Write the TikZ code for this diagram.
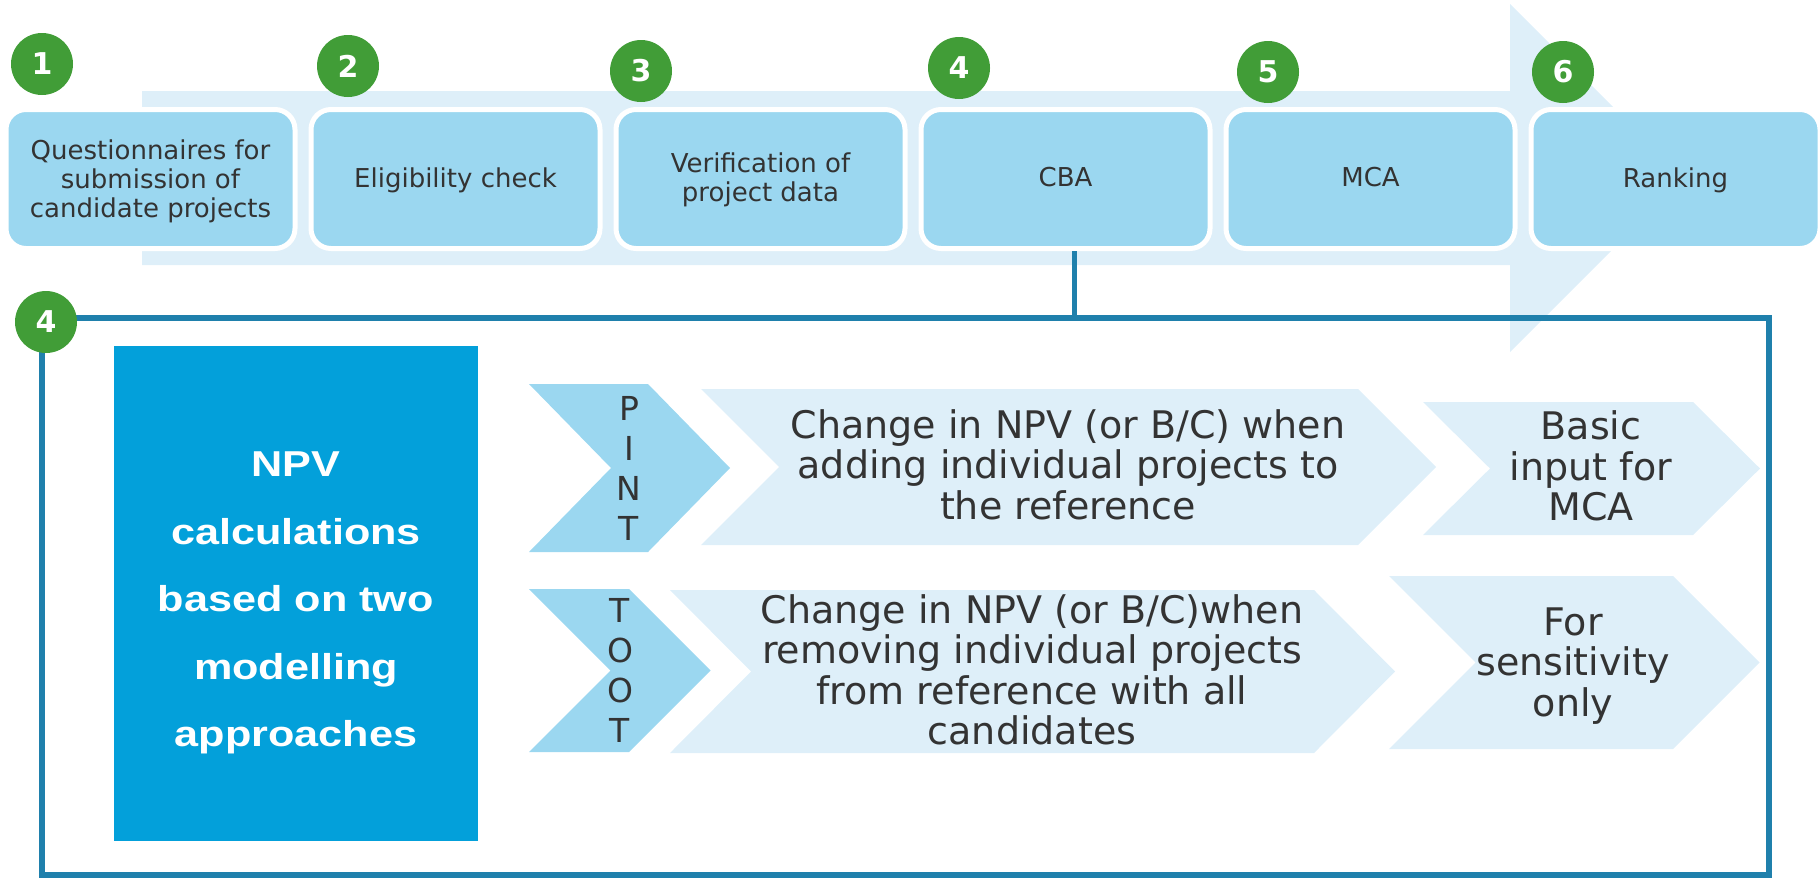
\documentclass[tikz,border=0pt]{standalone}
\usepackage{fontspec}
\setmainfont{DejaVu Sans}
\newfontfamily\npvfont{Liberation Sans}[FakeStretch=1.2]

\definecolor{bandblue}{RGB}{222,239,249}
\definecolor{boxblue}{RGB}{155,215,240}
\definecolor{stepgreen}{RGB}{65,157,55}
\definecolor{frameblue}{RGB}{31,128,172}
\definecolor{npvblue}{RGB}{3,160,218}
\definecolor{txtgray}{RGB}{51,51,51}

\tikzset{
  stepbox/.style={rounded corners=20pt, fill=boxblue, draw=white, line width=5pt,
    minimum width=289pt, minimum height=139pt, inner sep=0pt},
  steplabel/.style={align=center, text=txtgray, inner sep=0pt,
    font=\fontsize{26}{29}\selectfont},
  badge/.style={circle, fill=stepgreen, minimum size=62pt, inner sep=0pt,
    text=white, font=\bfseries\fontsize{30}{30}\selectfont},
  chevlight/.style={fill=bandblue},
  chevdark/.style={fill=boxblue},
  chevtext/.style={align=center, text=txtgray, inner sep=0pt,
    font=\fontsize{38}{40.5}\selectfont},
  lettertext/.style={align=center, text=txtgray, inner sep=0pt,
    font=\fontsize{33}{40}\selectfont},
  framerule/.style={draw=frameblue, line width=5.5pt},
}

\begin{document}
\begin{tikzpicture}[x=1pt, y=-1pt]
  \useasboundingbox (0,0) rectangle (1819,878);

  % wide process arrow behind the steps
  \fill[bandblue] (142,91) -- (1510,91) -- (1510,4) -- (1684,178)
                  -- (1510,352) -- (1510,265) -- (142,265) -- cycle;

  % process steps
  \node[stepbox] (b1) at (150.5,179) {};
  \node[stepbox] (b2) at (455.5,179) {};
  \node[stepbox] (b3) at (760.5,179) {};
  \node[stepbox] (b4) at (1065.5,179) {};
  \node[stepbox] (b5) at (1370.5,179) {};
  \node[stepbox] (b6) at (1675.5,179) {};
  \node[steplabel] (t1) at (150.5,181.5) {Questionnaires for\\submission of\\candidate projects};
  \node[steplabel] (t2) at (455.5,180.5) {Eligibility check};
  \node[steplabel] (t3) at (760.5,180) {Verification of\\project data};
  \node[steplabel] (t4) at (1065.5,177.5) {CBA};
  \node[steplabel] (t5) at (1370.5,177.5) {MCA};
  \node[steplabel] (t6) at (1675.5,180.5) {Ranking};

  % step numbers
  \node[badge] (n1) at (42,64) {1};
  \node[badge] (n2) at (348,66) {2};
  \node[badge] (n3) at (641,71) {3};
  \node[badge] (n4) at (959,68) {4};
  \node[badge] (n5) at (1268,72) {5};
  \node[badge] (n6) at (1563,72) {6};

  % detail frame for the CBA step
  \draw[framerule] (42,318) rectangle (1769,875);
  \coordinate (tap) at (1074,318);
  \draw[framerule, line width=5pt] (b4.south -| tap) -- (tap);
  \node[badge] (n4b) at (46,322) {4};

  % NPV block
  \node[fill=npvblue, minimum width=364pt, minimum height=495pt, inner sep=0pt]
    (npv) at (296,593.5) {};
  \node[align=center, text=white, inner sep=0pt,
        font=\npvfont\bfseries\fontsize{36}{67.5}\selectfont]
    (npvtxt) at (296,603) {NPV\\calculations\\based on two\\modelling\\approaches};

  % PINT row
  \fill[chevdark] (529,384) -- (648,384) -- (730,468) -- (648,552)
                  -- (529,552) -- (611,468) -- cycle;
  \fill[chevlight] (701,389) -- (1358,389) -- (1436,467) -- (1358,545)
                   -- (701,545) -- (779,467) -- cycle;
  \fill[chevlight] (1423,402) -- (1693,402) -- (1760,468.5) -- (1693,535)
                   -- (1423,535) -- (1490,468.5) -- cycle;
  \node[lettertext] (pint) at (629,468) {P\\I\\N\\T};
  \node[chevtext] (pintres) at (1068,464.5)
    {Change in NPV (or B/C) when\\adding individual projects to\\the reference};
  \node[chevtext] (pintuse) at (1591,466) {Basic\\input for\\MCA};

  % TOOT row
  \fill[chevdark] (529,589) -- (629,589) -- (710.5,670.5) -- (629,752)
                  -- (529,752) -- (610.5,670.5) -- cycle;
  \fill[chevlight] (670,590) -- (1314,590) -- (1395,671.5) -- (1314,753)
                   -- (670,753) -- (751,671.5) -- cycle;
  \fill[chevlight] (1389,576) -- (1673,576) -- (1759.5,662.5) -- (1673,749)
                   -- (1389,749) -- (1475.5,662.5) -- cycle;
  \node[lettertext] (toot) at (620,670) {T\\O\\O\\T};
  \node[chevtext] (tootres) at (1032,670)
    {Change in NPV (or B/C)when\\removing individual projects\\from reference with all\\candidates};
  \node[chevtext] (tootuse) at (1573,666) {For\\sensitivity\\only};
\end{tikzpicture}
\end{document}
